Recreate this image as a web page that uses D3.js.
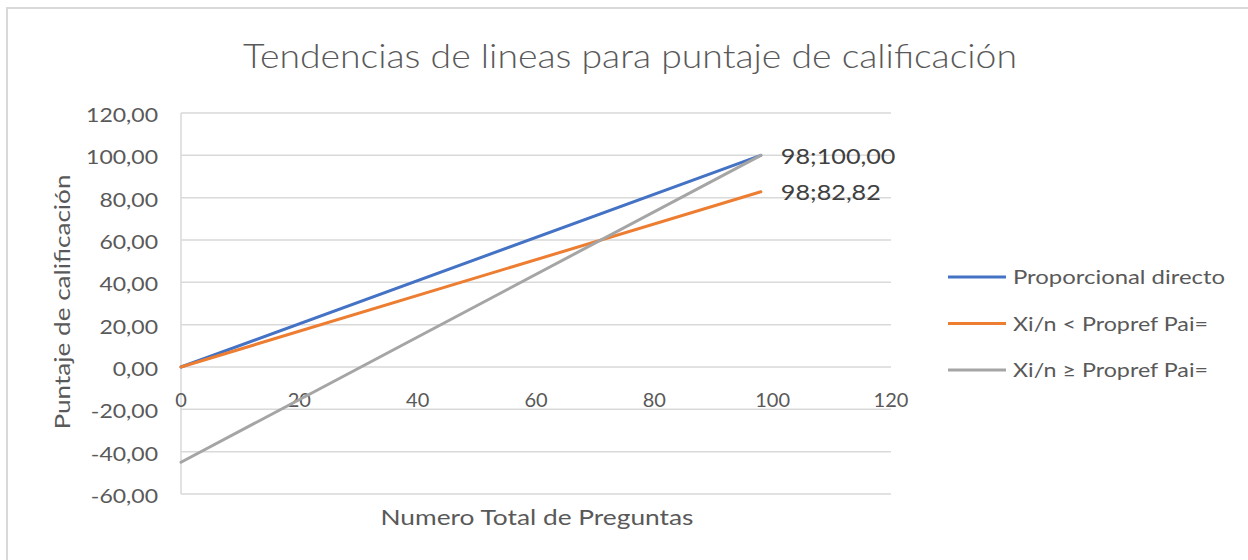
<!DOCTYPE html>
<html>
<head>
<meta charset="utf-8">
<script src="https://cdn.jsdelivr.net/npm/d3@7"></script>
<style>
  body { margin: 0; background: #fff; overflow: hidden; }
  text { font-family: Lato, "Open Sans", sans-serif; fill: #595959; }
  .grid line { stroke: #d9d9d9; stroke-width: 1.5; }
</style>
</head>
<body>
<div id="chart"></div>
<script>
// Data
var seriesNames = ['Proporcional directo', 'Xi/n < Propref Pai=', 'Xi/n \u2265 Propref Pai='];
var seriesColors = ['#4472c4', '#ed7d31', '#a5a5a5'];
var xValues = [0, 98];
var directo = [0, 100];
var menor = [0, 82.82];
var mayor = [-45, 100];
var xTicks = [0, 20, 40, 60, 80, 100, 120];
var yTicks = [-60, -40, -20, 0, 20, 40, 60, 80, 100, 120];

var width = 1248, height = 560;
var svg = d3.select('#chart').append('svg')
  .attr('width', width)
  .attr('height', height);

// the Excel text is wider than our fonts, stretch it horizontally
function stretch(sel, k) {
  sel.each(function () {
    var w = this.getComputedTextLength();
    d3.select(this)
      .attr('textLength', w * k)
      .attr('lengthAdjust', 'spacingAndGlyphs');
  });
}
function fitTo(sel, w) {
  sel.attr('textLength', w).attr('lengthAdjust', 'spacingAndGlyphs');
}

// chart frame (only top/left visible in the crop)
svg.append('rect')
  .attr('x', 7).attr('y', 8)
  .attr('width', width + 100).attr('height', height + 100)
  .attr('fill', '#fff')
  .attr('stroke', '#d9d9d9').attr('stroke-width', 2);

var x = d3.scaleLinear().domain([0, 120]).range([181, 891]);
var y = d3.scaleLinear().domain([-60, 120]).range([494, 113]);
// excel style: comma decimals, plain hyphen for negatives
var fmt = function (v) {
  return d3.format('.2f')(v).replace('.', ',').replace('\u2212', '-');
};

// gridlines
svg.append('g').attr('class', 'grid')
  .selectAll('line').data(yTicks).enter().append('line')
  .attr('x1', x(0)).attr('x2', x(120))
  .attr('y1', function (d) { return y(d); })
  .attr('y2', function (d) { return y(d); });

// vertical axis line
svg.append('line')
  .attr('x1', x(0)).attr('x2', x(0))
  .attr('y1', y(120)).attr('y2', y(-60))
  .attr('stroke', '#d9d9d9').attr('stroke-width', 1.5);

// y tick labels
svg.append('g').selectAll('text').data(yTicks).enter().append('text')
  .attr('x', 158)
  .attr('y', function (d) { return y(d) + 2; })
  .attr('dy', '0.35em')
  .attr('text-anchor', 'end')
  .style('font-size', '20px')
  .text(fmt)
  .call(stretch, 1.15);

// x tick labels, sitting under the y=0 line
svg.append('g').selectAll('text').data(xTicks).enter().append('text')
  .attr('x', function (d) { return x(d); })
  .attr('y', y(0) + 33)
  .attr('dy', '0.35em')
  .attr('text-anchor', 'middle')
  .style('font-size', '20px')
  .text(function (d) { return d; });

// series
var series = [directo, menor, mayor];
var line = d3.line()
  .x(function (d, i) { return x(xValues[i]); })
  .y(function (d) { return y(d); });

series.forEach(function (s, i) {
  svg.append('path')
    .datum(s)
    .attr('d', line)
    .attr('fill', 'none')
    .attr('stroke', seriesColors[i])
    .attr('stroke-width', 3)
    .attr('stroke-linecap', 'round');
});

// data labels at last points
[directo, menor].forEach(function (s) {
  var last = s.length - 1;
  svg.append('text')
    .attr('x', x(xValues[last]) + 20)
    .attr('y', y(s[last]) + 1)
    .attr('dy', '0.35em')
    .style('font-size', '21px')
    .style('fill', '#404040')
    .text(xValues[last] + ';' + fmt(s[last]))
    .call(stretch, 1.2);
});

// title
svg.append('text')
  .attr('x', 630).attr('y', 56)
  .attr('dy', '0.35em')
  .attr('text-anchor', 'middle')
  .style('font-size', '33px')
  .style('font-weight', 300)
  .text('Tendencias de lineas para puntaje de calificación')
  .call(fitTo, 774);

// axis titles
svg.append('text')
  .attr('x', 537).attr('y', 518)
  .attr('dy', '0.35em')
  .attr('text-anchor', 'middle')
  .style('font-size', '21px')
  .text('Numero Total de Preguntas')
  .call(fitTo, 313);

svg.append('text')
  .attr('transform', 'translate(63,' + 302 + ') rotate(-90)')
  .attr('dy', '0.35em')
  .attr('text-anchor', 'middle')
  .style('font-size', '21px')
  .text('Puntaje de calificación')
  .call(fitTo, 255);

// legend
var legendWidths = [212, 195, 195];
var legend = svg.append('g').selectAll('g').data(seriesNames).enter().append('g')
  .attr('transform', function (d, i) { return 'translate(948,' + (277 + i * 46.5) + ')'; });
legend.append('line')
  .attr('x1', 0).attr('x2', 58)
  .attr('stroke', function (d, i) { return seriesColors[i]; })
  .attr('stroke-width', 3);
legend.append('text')
  .attr('x', 65)
  .attr('dy', '0.35em')
  .style('font-size', '20px')
  .text(function (d) { return d; })
  .attr('textLength', function (d, i) { return legendWidths[i]; })
  .attr('lengthAdjust', 'spacingAndGlyphs');
</script>
</body>
</html>
